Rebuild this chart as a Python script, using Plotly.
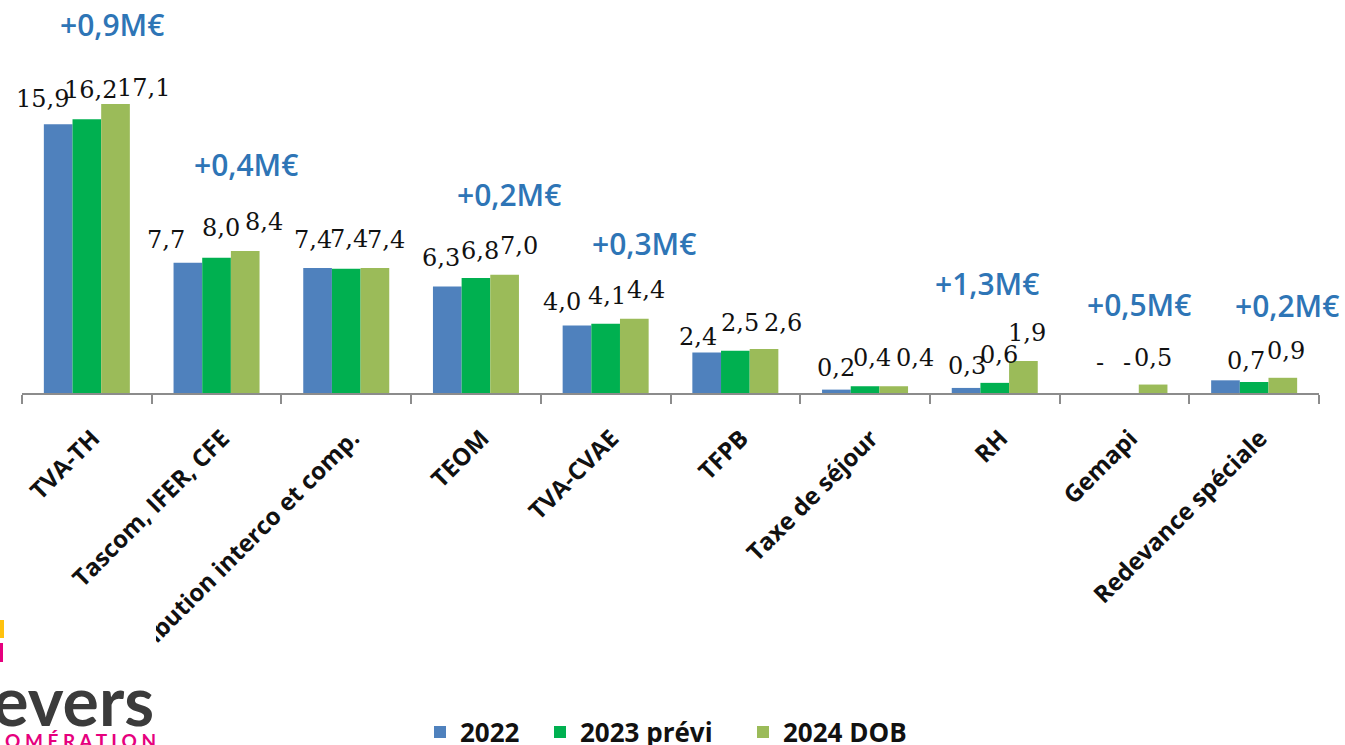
import plotly.graph_objects as go

# ---------------- data ----------------
categories = ["TVA-TH", "Tascom, IFER, CFE", "Attribution interco et comp.", "TEOM",
              "TVA-CVAE", "TFPB", "Taxe de séjour", "RH", "Gemapi", "Redevance spéciale"]
series_names = ["2022", "2023 prévi", "2024 DOB"]
v2022 = [15.9, 7.7, 7.4, 6.3, 4.0, 2.4, 0.2, 0.3, 0.0, 0.75]
v2023 = [16.2, 8.0, 7.35, 6.8, 4.1, 2.5, 0.4, 0.6, 0.0, 0.65]
v2024 = [17.1, 8.4, 7.4, 7.0, 4.4, 2.6, 0.4, 1.9, 0.5, 0.9]
lab2022 = ["15,9", "7,7", "7,4", "6,3", "4,0", "2,4", "0,2", "0,3", "-", ""]
lab2023 = ["16,2", "8,0", "7,4", "6,8", "4,1", "2,5", "0,4", "0,6", "-", "0,7"]
lab2024 = ["17,1", "8,4", "7,4", "7,0", "4,4", "2,6", "0,4", "1,9", "0,5", "0,9"]
delta_cats = ["TVA-TH", "Tascom, IFER, CFE", "TEOM", "TVA-CVAE", "RH", "Gemapi", "Redevance spéciale"]
delta_text = ["+0,9M€", "+0,4M€", "+0,2M€", "+0,3M€", "+1,3M€", "+0,5M€", "+0,2M€"]

# ---------------- style / placement ----------------
colors = ["#4F81BD", "#00B050", "#9BBB59"]
W, H = 1345, 745
ML, MR, MT, MB = 22, 26, 0, 352
BARGAP = 0.337
YMAX = 23.25
# manual nudges of value labels (px): horizontal offset from bar centre, gap above bar
lab_dx = [[-16, -22, -5, -6, -15, -9, 0, 1, 4, 0],
          [4, 4, 3, 4, 1, 5, 7, 4, 3, -8],
          [28, 19, 11, 14, 12, 19, 21, 4, 0, 3]]
lab_gap = [[16, 14, 19, 20, 14, 6, 13, 13, 21, 19],
           [20, 21, 21, 18, 19, 19, 19, 19, 21, 12],
           [7, 20, 19, 20, 20, 17, 19, 19, 18, 18]]
delta_dx = [25, 29, 33, 38, -8, 15, 33]
delta_dy = [79, 87, 80, 75, 77, 80, 72]
legend_left_px = [420, 540, 743]   # left edge of each legend entry
legend_mid_py = 732

PW = W - ML - MR
PH = H - MT - MB


def px2paper(x, y):
    return (x - ML) / PW, (H - MB - y) / PH


values = [v2022, v2023, v2024]
labels = [lab2022, lab2023, lab2024]
legend_ids = ["legend", "legend2", "legend3"]

fig = go.Figure()
for k in range(3):
    fig.add_trace(go.Bar(x=categories, y=values[k], name=series_names[k],
                         marker=dict(color=colors[k], line=dict(width=0)),
                         legend=legend_ids[k], hoverinfo="skip"))

annotations = []
bw = (1 - BARGAP) / 3
for k in range(3):
    for i, cat in enumerate(categories):
        if not labels[k][i]:
            continue
        annotations.append(dict(
            x=i + (k - 1) * bw, y=values[k][i], xref="x", yref="y",
            text=labels[k][i], showarrow=False, xanchor="center", yanchor="bottom",
            xshift=lab_dx[k][i], yshift=lab_gap[k][i] - 7,
            font=dict(family="DejaVu Serif", size=24, color="#111111")))

for j, cat in enumerate(delta_cats):
    i = categories.index(cat)
    top = max(v2022[i], v2023[i], v2024[i])
    annotations.append(dict(
        x=i, y=top, xref="x", yref="y", text=delta_text[j], showarrow=False,
        xanchor="center", yanchor="middle", xshift=delta_dx[j], yshift=delta_dy[j],
        font=dict(family="Open Sans", size=30, color="#2E75B6", weight=600)))

# logo (partially cropped in the reference)
lx, ly = px2paper(156, 699)
annotations.append(dict(x=lx, y=ly, xref="paper", yref="paper", text="Nevers",
                        showarrow=False, xanchor="right", yanchor="middle",
                        font=dict(family="Lato", size=68, color="#3b3b3b", weight=700)))
ax_, ay_ = px2paper(158, 740)
annotations.append(dict(x=ax_, y=ay_, xref="paper", yref="paper",
                        text="\u00a0".join("AGGLOMÉRATION"),
                        showarrow=False, xanchor="right", yanchor="middle",
                        font=dict(family="Lato", size=19, color="#E6007E", weight=700)))

shapes = []
x0, y0 = px2paper(0, 614)
x1, y1 = px2paper(156, 745)
shapes.append(dict(type="rect", xref="paper", yref="paper", x0=x0, y0=y0, x1=x1, y1=y1,
                   fillcolor="white", line=dict(width=0), layer="above"))
x0, y0 = px2paper(-6, 620)
x1, y1 = px2paper(4, 638)
shapes.append(dict(type="rect", xref="paper", yref="paper", x0=x0, y0=y0, x1=x1, y1=y1,
                   fillcolor="#FFC20E", line=dict(width=0), layer="above"))
x0, y0 = px2paper(-6, 643)
x1, y1 = px2paper(3, 662)
shapes.append(dict(type="rect", xref="paper", yref="paper", x0=x0, y0=y0, x1=x1, y1=y1,
                   fillcolor="#E6007E", line=dict(width=0), layer="above"))

layout_legends = {}
for k in range(3):
    gx, gy = px2paper(legend_left_px[k], legend_mid_py)
    layout_legends[legend_ids[k]] = dict(
        orientation="h", x=gx, y=gy, xanchor="left", yanchor="middle",
        font=dict(family="Open Sans", size=26, color="#111111", weight=700),
        bgcolor="rgba(0,0,0,0)", borderwidth=0)

fig.update_layout(
    width=W, height=H,
    margin=dict(l=ML, r=MR, t=MT, b=MB, autoexpand=False),
    paper_bgcolor="white", plot_bgcolor="white",
    barmode="group", bargap=BARGAP, bargroupgap=0,
    showlegend=True,
    xaxis=dict(type="category", range=[-0.5, len(categories) - 0.5],
               showline=True, linecolor="#8C8C8C", linewidth=1.5,
               ticks="outside", tickson="boundaries", ticklen=9, tickcolor="#8C8C8C",
               tickwidth=1.5, tickangle=-45, automargin=False,
               ticklabelstandoff=20, ticklabelshift=6,
               tickfont=dict(family="Open Sans", size=24, color="#111111", weight=700),
               showgrid=False, zeroline=False),
    yaxis=dict(range=[0, YMAX], visible=False, showgrid=False, zeroline=False),
    annotations=annotations, shapes=shapes,
    **layout_legends,
)

fig.write_html("out.html", config={"displayModeBar": False},
               post_script="document.body.style.margin='0';")
